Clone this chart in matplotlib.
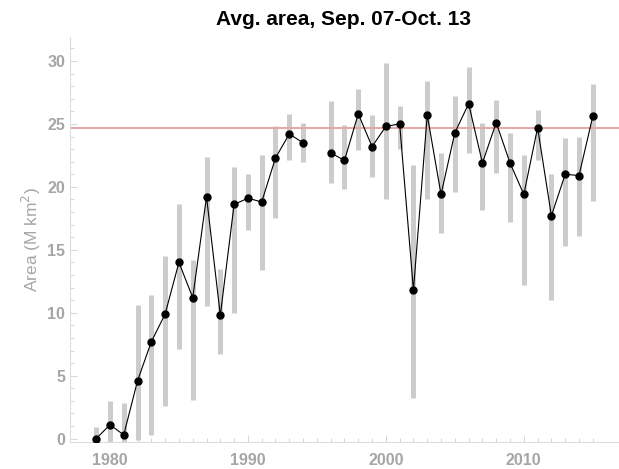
import matplotlib
matplotlib.use("Agg")
import matplotlib.pyplot as plt
import numpy as np

plt.rcParams["font.family"] = ["Liberation Sans", "DejaVu Sans"]

# yearly mean area with spread (lo/hi); 1995 has no data
years = list(range(1979, 2016))
area = [0.0, 1.1, 0.3, 4.6, 7.7, 9.9, 14.0, 11.2, 19.2, 9.8, 18.6, 19.1, 18.8, 22.3, 24.2, 23.5,
        np.nan,
        22.7, 22.1, 25.8, 23.2, 24.8, 25.0, 11.8, 25.7, 19.4, 24.3, 26.6, 21.9, 25.1, 21.9, 19.4,
        24.7, 17.7, 21.0, 20.9, 25.6]
area_lo = [-1.0, -0.5, -0.5, -0.1, 0.3, 2.6, 7.1, 3.1, 10.5, 6.7, 10.0, 16.6, 13.4, 17.5, 22.1, 22.0,
           np.nan,
           20.3, 19.8, 22.9, 20.8, 19.0, 23.0, 3.2, 19.0, 16.3, 19.6, 22.7, 18.2, 21.1, 17.2, 12.2,
           22.1, 11.0, 15.3, 16.1, 18.9]
area_hi = [0.9, 3.0, 2.8, 10.6, 11.4, 14.5, 18.6, 14.2, 22.4, 13.5, 21.6, 21.0, 22.5, 24.8, 25.8, 25.1,
           np.nan,
           26.8, 24.9, 27.8, 25.7, 29.8, 26.4, 21.7, 28.4, 22.7, 27.2, 29.5, 25.1, 26.9, 24.3, 22.5,
           26.1, 21.0, 23.9, 24.0, 28.2]
reference_level = 24.7

x = np.array(years)
y = np.array(area)
lo = np.array(area_lo)
hi = np.array(area_hi)

fig = plt.figure(figsize=(6.19, 4.69), dpi=100)
ax = fig.add_axes([0.113, 0.058, 0.887, 0.863])

ax.vlines(x, lo, hi, color="#cccccc", lw=3.6, zorder=1)
ax.axhline(reference_level, color="#e6a8a8", lw=1.5, zorder=2)
ax.plot(x, y, color="black", lw=0.8, marker="o", ms=5, zorder=3)

ax.set_xlim(1977.1, 2016.9)
ax.set_ylim(-0.25, 31.9)
ax.set_xticks([1980, 1990, 2000, 2010])
ax.set_xticks(x, minor=True)
ax.set_yticks([0, 5, 10, 15, 20, 25, 30])
ax.set_yticks(np.arange(0, 32, 1), minor=True)

tick_grey = "#a6a6a6"
ax.tick_params(which="both", direction="in", color="#d0d0d0", labelcolor=tick_grey,
               labelsize=11.5, width=0.6)
ax.tick_params(which="major", length=5)
ax.tick_params(which="minor", length=3)
ax.tick_params(axis="x", which="major", pad=8)
for lbl in ax.get_xticklabels() + ax.get_yticklabels():
    lbl.set_fontweight("bold")

for side in ("top", "right"):
    ax.spines[side].set_visible(False)
for side in ("left", "bottom"):
    ax.spines[side].set_color("#dddddd")
    ax.spines[side].set_linewidth(0.8)

ax.set_ylabel("Area (M km$^2$)", color=tick_grey, fontsize=12.5, labelpad=3)
fig.suptitle("Avg. area, Sep. 07-Oct. 13", x=0.555, y=0.978, fontsize=15, fontweight="bold")

fig.savefig("out.png", dpi=100)
